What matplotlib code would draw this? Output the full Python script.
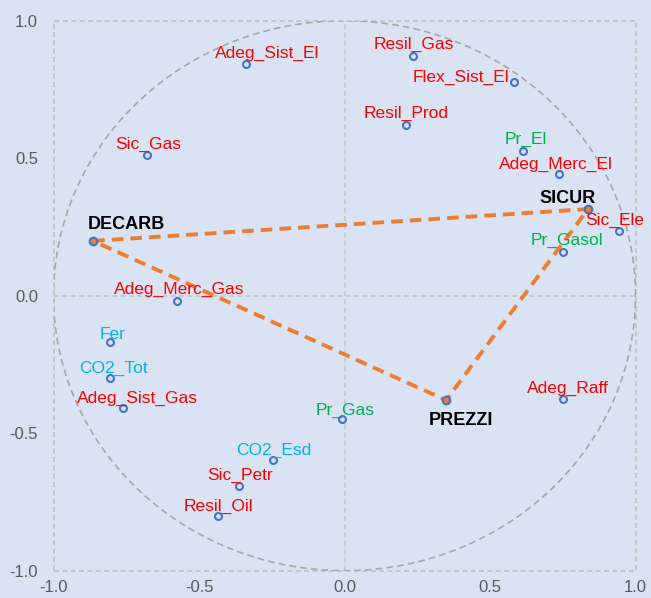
import matplotlib
matplotlib.use("Agg")
import matplotlib.pyplot as plt
import numpy as np

# ---- data ----
names = ["Adeg_Sist_El", "Sic_Gas", "Adeg_Merc_Gas", "Resil_Gas", "Flex_Sist_El",
         "Resil_Prod", "Pr_El", "Adeg_Merc_El", "Sic_Ele", "Pr_Gasol",
         "Fer", "CO2_Tot", "Adeg_Sist_Gas", "CO2_Esd", "Sic_Petr", "Resil_Oil",
         "Pr_Gas", "Adeg_Raff"]
xs = [-0.338, -0.678, -0.575, 0.236, 0.582,
      0.210, 0.614, 0.736, 0.943, 0.750,
      -0.806, -0.806, -0.760, -0.246, -0.363, -0.434,
      -0.009, 0.750]
ys = [0.844, 0.511, -0.019, 0.872, 0.777,
      0.620, 0.525, 0.444, 0.235, 0.158,
      -0.168, -0.299, -0.407, -0.598, -0.693, -0.802,
      -0.447, -0.374]
groups = ["sec", "sec", "sec", "sec", "sec",
          "sec", "price", "sec", "sec", "price",
          "env", "env", "sec", "env", "sec", "sec",
          "price", "sec"]

dim_names = ["DECARB", "SICUR", "PREZZI"]
dim_x = [-0.864, 0.837, 0.349]
dim_y = [0.199, 0.315, -0.380]

ticks = [-1.0, -0.5, 0.0, 0.5, 1.0]
tick_labels = ["-1.0", "-0.5", "0.0", "0.5", "1.0"]

# ---- style ----
bg = "#DAE3F3"
group_colors = {"sec": "#FF0000", "price": "#00B050", "env": "#00B0F0"}
label_offsets = {
    "Adeg_Sist_El": (21, 12), "Sic_Gas": (1, 12), "Adeg_Merc_Gas": (2, 13),
    "Resil_Gas": (1, 13), "Flex_Sist_El": (-53, 6), "Resil_Prod": (1, 13),
    "Pr_El": (3, 13), "Adeg_Merc_El": (-3, 11), "Sic_Ele": (-4, 12),
    "Pr_Gasol": (4, 13), "Fer": (3, 9), "CO2_Tot": (3, 11),
    "Adeg_Sist_Gas": (14, 11), "CO2_Esd": (1, 11), "Sic_Petr": (1, 12),
    "Resil_Oil": (0, 11), "Pr_Gas": (3, 10), "Adeg_Raff": (5, 12),
}
dim_offsets = {"DECARB": (33, 18), "SICUR": (-20, 13), "PREZZI": (15, -18)}

plt.rcParams["font.family"] = ["Liberation Sans", "DejaVu Sans"]

fig = plt.figure(figsize=(6.51, 5.98), dpi=100, facecolor=bg)
ax = fig.add_axes([0.0822, 0.0457, 0.894, 0.9197])
ax.set_facecolor(bg)
ax.set_xlim(-1, 1)
ax.set_ylim(-1, 1)

# border as dashed
for s in ax.spines.values():
    s.set_visible(False)
ax.plot([-1, 1, 1, -1, -1], [-1, -1, 1, 1, -1], color="#BFBFBF", lw=1.2,
        ls=(0, (3, 2)), clip_on=False, zorder=1)
ax.axhline(0, color="#C8C8C8", lw=1.2, ls=(0, (3, 2)), zorder=1)
ax.axvline(0, color="#C8C8C8", lw=1.2, ls=(0, (3, 2)), zorder=1)

# unit circle
t = np.linspace(0, 2 * np.pi, 400)
ax.plot(np.cos(t), np.sin(t), color="#A6A6A6", lw=1.2, ls=(0, (4, 2.5)), zorder=2)

# triangle
tx = dim_x + [dim_x[0]]
ty = dim_y + [dim_y[0]]
ax.plot(tx, ty, color="#ED7D31", lw=2.8, ls=(0, (3, 1.8)), zorder=3)

# variable points
ax.plot(xs, ys, ls="none", marker="o", ms=5, mfc=bg, mec="#4472C4", mew=1.5, zorder=4)
ax.plot(dim_x, dim_y, ls="none", marker="o", ms=5.5, mfc="#ED7D31", mec="#4472C4", mew=1.5, zorder=4)

for n, x, y, g in zip(names, xs, ys, groups):
    dx, dy = label_offsets[n]
    ax.annotate(n, (x, y), xytext=(dx, dy), textcoords="offset pixels",
                ha="center", va="center_baseline", fontsize=12.5,
                color=group_colors[g], zorder=5)

for n, x, y in zip(dim_names, dim_x, dim_y):
    dx, dy = dim_offsets[n]
    ax.annotate(n, (x, y), xytext=(dx, dy), textcoords="offset pixels",
                ha="center", va="center_baseline", fontsize=13,
                fontweight="bold", color="black", zorder=5)

ax.set_xticks(ticks)
ax.set_xticklabels(tick_labels)
ax.set_yticks(ticks)
ax.set_yticklabels(tick_labels)
ax.tick_params(length=0, labelsize=12, labelcolor="#595959")
ax.tick_params(axis="x", pad=7)
ax.tick_params(axis="y", pad=11)

fig.savefig("out.png", dpi=100, facecolor=bg)
